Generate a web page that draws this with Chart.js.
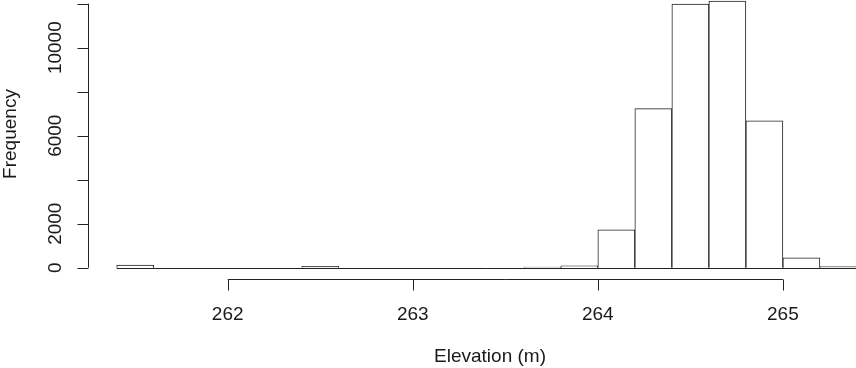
<!DOCTYPE html>
<html>
<head>
<meta charset="utf-8">
<script src="https://cdn.jsdelivr.net/npm/chart.js@4/dist/chart.umd.min.js"></script>
<style>
  body { margin: 0; background: #fff; }
  canvas { display: block; }
</style>
</head>
<body>
<canvas id="grafik" width="856" height="368"></canvas>
<script>
// histogram bins (left edges, width 0.2 m) and counts
const binStart = [261.4, 261.6, 261.8, 262.0, 262.2, 262.4, 262.6, 262.8, 263.0, 263.2,
                  263.4, 263.6, 263.8, 264.0, 264.2, 264.4, 264.6, 264.8, 265.0, 265.2];
const counts = [120, 0, 0, 0, 0, 60, 0, 0, 0, 0,
                0, 30, 90, 1720, 7230, 11980, 12120, 6670, 450, 45];
const binWidth = 0.2;

const xTicks = [262, 263, 264, 265];
const yTicks = [0, 2000, 4000, 6000, 8000, 10000, 12000];
const yTickLabels = ["0", "2000", "", "6000", "", "10000", ""];
const xTitle = "Elevation (m)";
const yTitle = "Frequency";

const font = '19px "Liberation Sans", Arial, sans-serif';
const ink = "#1a1a1a";

// R style axes + zero baseline
const rAxes = {
  id: "rAxes",
  afterDatasetsDraw(chart) {
    const ctx = chart.ctx;
    const x = chart.scales.x, y = chart.scales.y;
    const y0 = y.getPixelForValue(0);
    ctx.save();
    ctx.strokeStyle = "#222";
    ctx.lineWidth = 1;
    // baseline drawn by empty bins
    ctx.beginPath();
    ctx.moveTo(x.getPixelForValue(binStart[0]), Math.round(y0) + 0.5);
    ctx.lineTo(chart.chartArea.right, Math.round(y0) + 0.5);
    ctx.stroke();

    // x axis
    const ay = chart.chartArea.bottom + 0.5;
    ctx.beginPath();
    ctx.moveTo(x.getPixelForValue(xTicks[0]), ay);
    ctx.lineTo(x.getPixelForValue(xTicks[xTicks.length - 1]), ay);
    xTicks.forEach(v => {
      const px = Math.round(x.getPixelForValue(v)) + 0.5;
      ctx.moveTo(px, ay);
      ctx.lineTo(px, ay + 11);
    });
    // y axis
    const ax = chart.chartArea.left + 0.5;
    ctx.moveTo(ax, y.getPixelForValue(yTicks[0]));
    ctx.lineTo(ax, y.getPixelForValue(yTicks[yTicks.length - 1]));
    yTicks.forEach(v => {
      const py = Math.round(y.getPixelForValue(v)) + 0.5;
      ctx.moveTo(ax, py);
      ctx.lineTo(ax - 11, py);
    });
    ctx.stroke();

    ctx.fillStyle = ink;
    ctx.font = font;
    ctx.textAlign = "center";
    ctx.textBaseline = "middle";
    xTicks.forEach(v => {
      ctx.fillText(String(v), x.getPixelForValue(v), ay + 35);
    });
    yTicks.forEach((v, i) => {
      if (!yTickLabels[i]) return;
      ctx.save();
      ctx.translate(ax - 33, y.getPixelForValue(v));
      ctx.rotate(-Math.PI / 2);
      ctx.fillText(yTickLabels[i], 0, 0);
      ctx.restore();
    });
    ctx.fillText(xTitle, 490, 357);
    ctx.save();
    ctx.translate(11, 134);
    ctx.rotate(-Math.PI / 2);
    ctx.fillText(yTitle, 0, 0);
    ctx.restore();
    ctx.restore();
  }
};

new Chart(document.getElementById("grafik"), {
  type: "bar",
  data: {
    datasets: [{
      data: binStart.map((b, i) => ({ x: b + binWidth / 2, y: counts[i] })),
      backgroundColor: "#fff",
      borderColor: "#222",
      borderWidth: 1,
      barPercentage: 1,
      categoryPercentage: 1,
    }],
  },
  options: {
    responsive: false,
    animation: false,
    layout: { padding: { left: 88, right: 0, top: 0, bottom: 89 } },
    plugins: { legend: { display: false }, tooltip: { enabled: false } },
    scales: {
      x: { type: "linear", min: 261.245, max: 265.395, offset: false,
           grid: { offset: false }, display: false },
      y: { min: -514, max: 12168, display: false },
    },
  },
  plugins: [rAxes],
});
</script>
</body>
</html>
